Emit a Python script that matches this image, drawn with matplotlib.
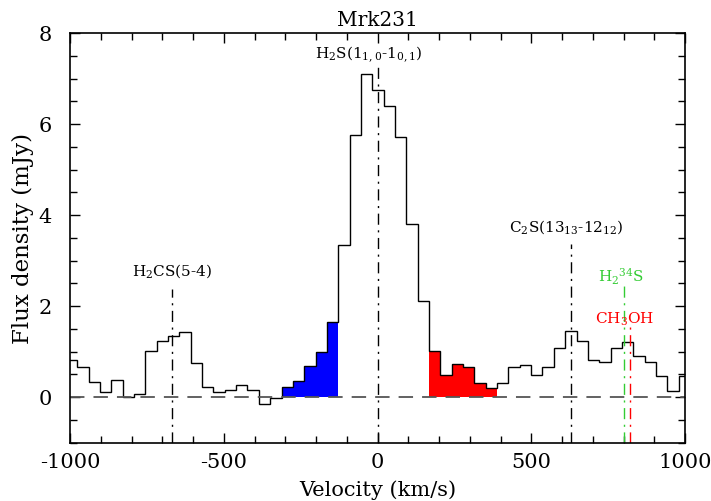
import matplotlib
matplotlib.use('Agg')
from matplotlib import pyplot as plt
from matplotlib.ticker import MultipleLocator
import numpy as np

# channel centres (km/s) and flux density (mJy)
velocity = [-994.8, -957.9, -921.0, -884.1, -847.2, -810.3, -773.4, -736.5,
            -699.6, -662.7, -625.8, -588.9, -552.0, -515.1, -478.2, -441.3,
            -404.4, -367.5, -330.6, -293.7, -256.8, -219.9, -183.0, -146.1,
            -109.2, -72.3, -35.4, 1.5, 38.4, 75.3, 112.2, 149.1,
            186.0, 222.9, 259.8, 296.7, 333.6, 370.5, 407.4, 444.3,
            481.2, 518.1, 555.0, 591.9, 628.8, 665.7, 702.6, 739.5,
            776.4, 813.3, 850.2, 887.1, 924.0, 960.9, 997.8]
flux = [0.81, 0.66, 0.32, 0.10, 0.37, 0.00, 0.07, 1.02,
        1.23, 1.34, 1.43, 0.74, 0.21, 0.11, 0.15, 0.26,
        0.15, -0.15, -0.03, 0.21, 0.35, 0.68, 1.00, 1.65,
        3.33, 5.75, 7.10, 6.74, 6.40, 5.71, 3.80, 2.12,
        1.01, 0.48, 0.72, 0.65, 0.31, 0.20, 0.30, 0.65,
        0.71, 0.49, 0.65, 1.07, 1.44, 1.23, 0.82, 0.78,
        1.07, 1.20, 0.91, 0.78, 0.46, 0.13, 0.47]
chan_width = 36.9

# shaded wings (channel index ranges)
blue_wing = (19, 24)
red_wing = (32, 38)

# line identifications: velocity, top of marker, label position, label, colour
line_vel = [-667, 0, 630, 800, 820]
line_top = [2.38, 7.34, 3.37, 2.45, 1.54]
lab_x = [-667, -28, 613, 793, 804]
lab_y = [2.79, 7.54, 3.76, 2.66, 1.72]
line_lab = [r'H$_2$CS(5-4)', r'H$_2$S(1$_{1,0}$-1$_{0,1}$)',
            r'C$_2$S(13$_{13}$-12$_{12}$)', r'H$_2$$^{34}$S', r'CH$_3$OH']
line_col = ['black', 'black', 'black', '#33cc33', 'red']

plt.rcParams['font.family'] = 'DejaVu Serif'
plt.rcParams['mathtext.fontset'] = 'dejavuserif'
plt.rcParams['axes.unicode_minus'] = False

fig = plt.figure(figsize=(7.11, 5.02), dpi=100)
ax = fig.add_axes([70/711, 1-443.5/502, 615/711, 409.5/502])

v = np.array(velocity)
f = np.array(flux)
edges = np.append(v - chan_width/2, v[-1] + chan_width/2)

for (a, b), c in [(blue_wing, 'blue'), (red_wing, 'red')]:
    ax.stairs(f[a:b], edges[a:b+1], fill=True, color=c, baseline=0, lw=0)

ax.stairs(f, edges, color='black', lw=1.0, baseline=None)
ax.axhline(0, color='#555555', ls=(0, (8, 5)), lw=1.3)

for x, top, lx, ly, lab, c in zip(line_vel, line_top, lab_x, lab_y, line_lab, line_col):
    ax.plot([x, x], [-1, top], color=c, lw=1.0, ls=(0, (8, 4, 1.5, 4)))
    ax.text(lx, ly, lab, color=c, ha='center', va='center', fontsize=11)

ax.set_xlim(-1000, 1000)
ax.set_ylim(-1, 8)
ax.xaxis.set_major_locator(MultipleLocator(500))
ax.xaxis.set_minor_locator(MultipleLocator(100))
ax.yaxis.set_major_locator(MultipleLocator(2))
ax.yaxis.set_minor_locator(MultipleLocator(0.5))
ax.tick_params(which='both', direction='in', top=True, right=True, width=1.0)
ax.tick_params(which='major', length=7.5, labelsize=15)
ax.tick_params(axis='x', which='major', pad=7)
ax.tick_params(axis='y', which='major', pad=13)
ax.tick_params(which='minor', length=5)
for s in ax.spines.values():
    s.set_linewidth(1.2)

ax.set_xlabel('Velocity (km/s)', fontsize=15, labelpad=6)
ax.set_ylabel('Flux density (mJy)', fontsize=16.5, labelpad=3)
ax.set_title('Mrk231', fontsize=14.5, pad=6)

fig.savefig('out.png', dpi=100)
